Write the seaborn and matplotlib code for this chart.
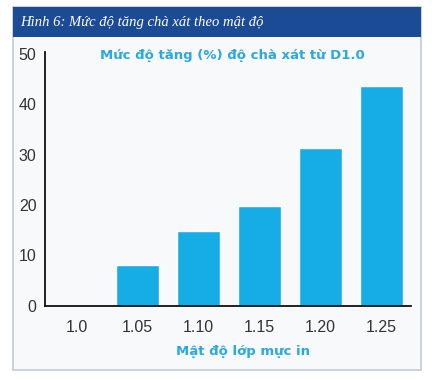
import matplotlib
matplotlib.use("Agg")
import pandas as pd
import seaborn as sns
from matplotlib import pyplot as plt
from matplotlib.patches import Rectangle

# values
densities = ["1.0", "1.05", "1.10", "1.15", "1.20", "1.25"]
increase_pct = [0, 8.1, 14.8, 19.8, 31.2, 43.5]
y_ticks = [0, 10, 20, 30, 40, 50]

title = "Hình 6: Mức độ tăng chà xát theo mật độ"
subtitle = "Mức độ tăng (%) độ chà xát từ D1.0"
xlabel = "Mật độ lớp mực in"

df = pd.DataFrame({"density": densities, "pct": increase_pct})

sns.set_style("white")
plt.rcParams["font.family"] = ["Liberation Sans", "DejaVu Sans"]

bar_col = "#16ade6"
cyan_text = "#2ba8df"
navy = "#1b4b95"

fig = plt.figure(figsize=(4.32, 3.8), dpi=100)
fig.patch.set_facecolor("white")

# panel frame and title banner
fig.patches.append(Rectangle((0.030, 0.026), 0.944, 0.955, transform=fig.transFigure,
                             facecolor="#f8f9fb", edgecolor="#c5cad3", lw=1.2, zorder=-5))
fig.patches.append(Rectangle((0.030, 0.9026), 0.944, 0.079, transform=fig.transFigure,
                             facecolor=navy, edgecolor="none", zorder=-4))
fig.text(0.046, 0.942, title, color="white", fontsize=10.5, style="italic",
         family=["Liberation Serif", "DejaVu Serif"], va="center", ha="left")

ax = fig.add_axes([0.104, 0.195, 0.847, 0.668])
ax.set_zorder(2)
ax.set_facecolor("none")
sns.barplot(data=df, x="density", y="pct", order=densities, color=bar_col,
            saturation=1, width=0.7, ax=ax)

ax.set_xlim(-0.52, 5.48)
ax.set_ylim(0, 50.3)
ax.set_yticks(y_ticks)
ax.set_xlabel("")
ax.set_ylabel("")
for s in ["top", "right"]:
    ax.spines[s].set_visible(False)
for s in ["left", "bottom"]:
    ax.spines[s].set_color("#111111")
    ax.spines[s].set_linewidth(1.3)
ax.tick_params(axis="both", length=0, labelsize=11.5, labelcolor="#333333")
ax.tick_params(axis="y", pad=6)
ax.tick_params(axis="x", pad=10)

fig.text(0.537, 0.855, subtitle, color=cyan_text, fontsize=9.5, weight="bold",
         family=["Liberation Sans Narrow", "DejaVu Sans"], ha="center", va="center")
fig.text(0.5625, 0.074, xlabel, color=cyan_text, fontsize=9.5, weight="bold",
         family=["Liberation Sans Narrow", "DejaVu Sans"], ha="center", va="center")

fig.savefig("out.png", dpi=100)
